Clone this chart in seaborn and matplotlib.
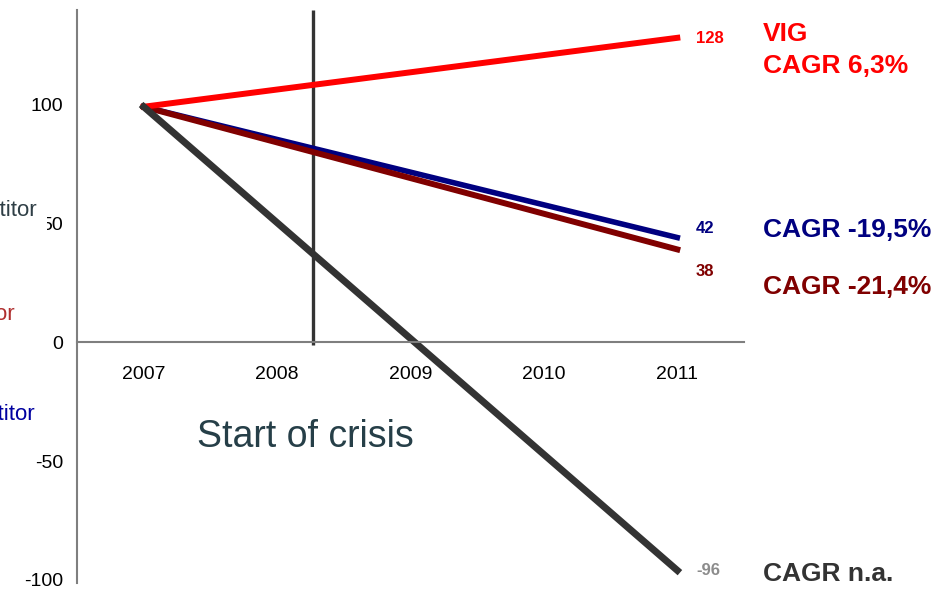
import pandas as pd
import matplotlib.pyplot as plt
import seaborn as sns

# data
years = ['2007', '2008', '2009', '2010', '2011']
series = ['Competitor C', 'Competitor B', 'VIG', 'Competitor A']
start_values = [99, 99, 99, 99]          # 2007
end_values = [44, 39, 128, -96]          # 2011
value_labels = ['42', '38', '128', '-96']
cagr_labels = ['CAGR -19,5%', 'CAGR -21,4%', 'VIG\nCAGR 6,3%', 'CAGR n.a.']
crisis_x = 1.27                          # position between 2008 and 2009
crisis_text = 'Start of crisis'

colors = ['#000080', '#800000', '#FF0000', '#333333']
widths = [4.0, 4.3, 4.3, 5.0]
label_colors = ['#000080', '#800000', '#FF0000', '#8C8C8C']
cagr_colors = ['#000080', '#800000', '#FF0000', '#333333']
label_y = [45.7, 27.7, 126.0, -98.0]
cagr_y = [44.1, 20.2, 113.1, -100.3]

sns.set_style('white')
plt.rcParams['font.family'] = ['Liberation Sans', 'DejaVu Sans']
plt.rcParams['axes.unicode_minus'] = False

df = pd.DataFrame({
    'series': [s for s in series for _ in range(2)],
    'pos': [0, len(years) - 1] * len(series),
    'value': [v for pair in zip(start_values, end_values) for v in pair],
})

fig = plt.figure(figsize=(9.53, 5.9), dpi=100)
ax = fig.add_axes([77 / 953, 1 - 583 / 590, 667 / 953, 573 / 590])

for s, c, w in zip(series, colors, widths):
    sns.lineplot(data=df[df['series'] == s], x='pos', y='value', color=c,
                 linewidth=w, ax=ax, legend=False, solid_capstyle='projecting')

# crisis marker
ax.vlines(crisis_x, -1, 139.7, color='#333333', linewidth=2.4, zorder=1)
ax.text(1.21, -44.1, crisis_text, fontsize=27, color='#263F48',
        ha='center', va='baseline')

# end-of-line values and CAGR texts
for lab, c, y in zip(value_labels, label_colors, label_y):
    ax.text(4.14, y, lab, fontsize=12, fontweight='bold', color=c,
            va='baseline', clip_on=False)
for lab, c, y in zip(cagr_labels, cagr_colors, cagr_y):
    ax.text(4.642, y, lab, fontsize=19, fontweight='bold', color=c,
            va='baseline', clip_on=False, linespacing=1.45)

# axes styling
ax.set_xlim(-0.5, 4.5)
ax.set_ylim(-101.3, 139.7)
ax.spines['top'].set_visible(False)
ax.spines['right'].set_visible(False)
ax.spines['bottom'].set_position(('data', 0))
for sp in ['left', 'bottom']:
    ax.spines[sp].set_color('#7F7F7F')
    ax.spines[sp].set_linewidth(1.5)

ax.set_yticks([-100, -50, 0, 50, 100])
ax.tick_params(axis='y', direction='out', length=5, width=1.2,
               color='#7F7F7F', labelsize=14, labelcolor='black', pad=5)
ax.set_xticks([i - 0.5 for i in range(len(years) + 1)])
ax.set_xticklabels([])
ax.set_xticks(range(len(years)), minor=True)
ax.set_xticklabels(years, minor=True)
ax.tick_params(axis='x', which='major', direction='out', length=5, width=1.2,
               color='#7F7F7F')
ax.tick_params(axis='x', which='minor', length=0, labelsize=14,
               labelcolor='black', pad=17)
ax.set_xlabel('')
ax.set_ylabel('')

# clipped legend texts at the left edge
fig.text(38 / 953, 1 - 216 / 590, 'Competitor', ha='right', va='baseline',
         fontsize=16, color='#2F3F46',
         bbox=dict(facecolor='white', edgecolor='none', pad=6.5))
fig.text(15 / 953, 1 - 320 / 590, 'Competitor', ha='right', va='baseline',
         fontsize=16, color='#B03030')
fig.text(35 / 953, 1 - 420 / 590, 'Competitor', ha='right', va='baseline',
         fontsize=16, color='#0000A0')

plt.savefig('out.png', dpi=100)
